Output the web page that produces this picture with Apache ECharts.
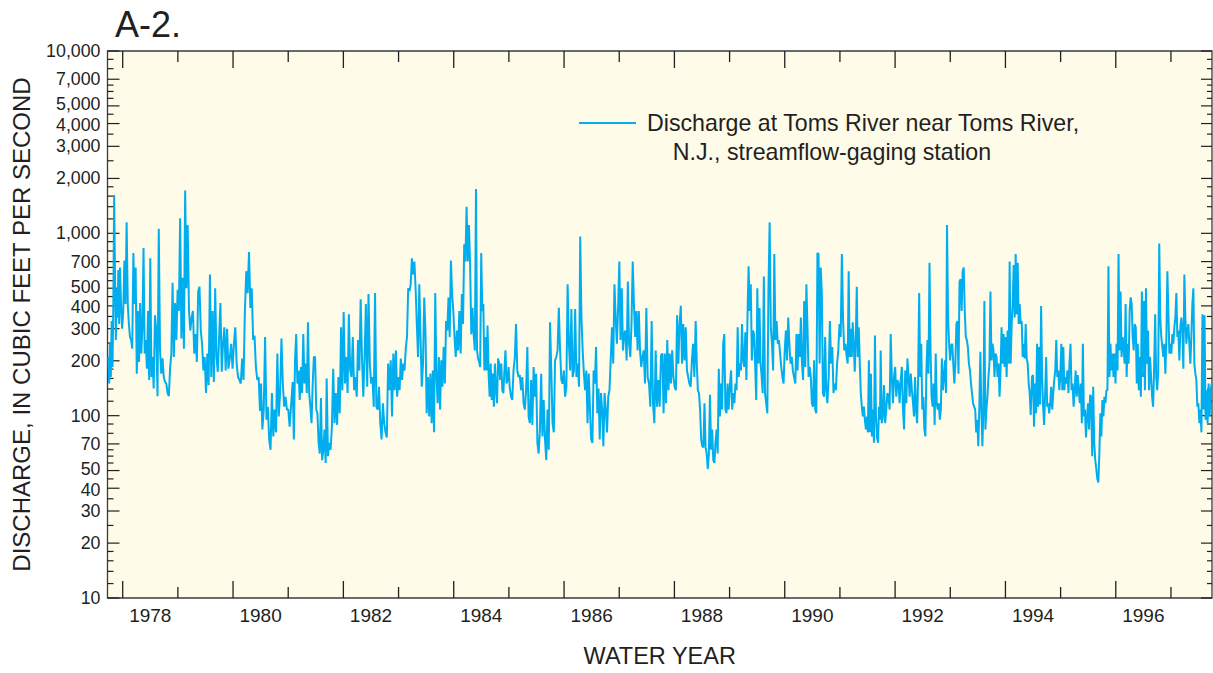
<!DOCTYPE html>
<html>
<head>
<meta charset="utf-8">
<title>A-2. Discharge at Toms River near Toms River, N.J.</title>
<script src="https://cdn.jsdelivr.net/npm/echarts/dist/echarts.min.js"></script>
<style>html,body{margin:0;padding:0;background:#fff}#chart{width:1213px;height:673px}</style>
</head>
<body>
<div id="chart"></div>
<script>
// ---------------- data ----------------
const SERIES_NAME = 'Discharge at Toms River near Toms River, N.J., streamflow-gaging station';
const X_MIN = 1977.4745;   // decimal calendar year at left edge of plot
const X_MAX = 1997.494;    // decimal calendar year at right edge of plot
const WATER_YEAR_TICKS = [1978,1979,1980,1981,1982,1983,1984,1985,1986,1987,1988,1989,1990,1991,1992,1993,1994,1995,1996,1997];
const WATER_YEAR_LABELS = [1978,1980,1982,1984,1986,1988,1990,1992,1994,1996];
const Y_LABEL_TICKS = [10,20,30,40,50,70,100,200,300,400,500,700,1000,2000,3000,4000,5000,7000,10000];
const Y_MINOR_TICKS = [12,14,16,18,25,35,45,55,60,65,80,90,120,140,160,180,250,350,450,550,600,650,800,900,1200,1400,1600,1800,2500,3500,4500,5500,6000,6500,8000,9000];

// each segment: [first date, last date] (decimal years); readings evenly spaced in between
const SEGMENT_DATES = [
 [1977.4896,1977.7011],[1977.7192,1978.3113],[1978.3355,1978.9276],[1978.9518,1979.5922],[1979.6164,1980.2387],[1980.2569,1980.8006],
 [1980.8308,1981.4290],[1981.4471,1982.0392],[1982.0634,1982.6555],[1982.6797,1983.2597],[1983.2839,1983.8518],[1983.8760,1984.1539],
 [1984.1720,1984.7641],[1984.7882,1985.3804],[1985.4045,1985.9966],[1986.0208,1986.5948],[1986.6190,1987.1930],[1987.2171,1987.5071],
 [1987.5313,1988.1113],[1988.1355,1988.7337],[1988.7578,1989.3318],[1989.3499,1989.9179],[1989.9421,1990.5221],[1990.5463,1990.8725],
 [1990.8905,1991.4766],[1991.4887,1992.0748],[1992.0929,1992.6729],[1992.6911,1993.2771],[1993.2953,1993.8813],[1993.8995,1994.2076],
 [1994.2318,1994.8178],[1994.8360,1995.4341],[1995.4522,1996.0383],[1996.0564,1996.6304],[1996.6486,1997.2286],[1997.2467,1997.4884]
];
// discharge, cubic feet per second
const q01 = [210,150,248,163,330,185,410,1620,570,260,500,345,630,318,650];
const q02 = [410,300,375,710,410,1150,410,318,270,260,233,780,410,650,170,375,197,415,219,305,830,219,260,181,375,157,730,163,210,141];
const q03 = [355,293,128,1060,228,170,206,163,153,150,133,128,181,219,535,210,415,260,490,375,1210,265,570,233,1720,500,1110];
const q04 = [375,293,345,375,219,280,197,480,510,293,248,177,210,133,219,147,595,163,375,153,500,210,174,270,415,174,248,305];
const q05 = [177,300,181,206,248,181,248,305,193,163,157,150,206,157,375,620,470,790,390,500,260,275,185,157,163,106];
const q06 = [150,84,108,270,95,112,74,65,133,77,108,81,219,99,133,265,150,112,127,108,108,87,112];
const q07 = [153,74,201,280,150,177,122,185,133,280,150,193,133,325,133,112,91,150,210,210,108,103,71,62,125,57,65,84,55];
const q08 = [160,60,71,65,87,181,91,133,89,163,103,305,138,370,150,210,133,360,177,163,270,138,163,127,260,177];
const q09 = [435,210,127,210,410,144,465,193,150,163,112,470,112,108,144,91,74,117,91,81,76,193,138,201,99,219];
const q10 = [138,228,127,163,138,206,157,193,177,233,270,500,480,525,730,595,700,500,318,210,525,270,144,193,445,293,103];
const q11 = [163,99,170,91,177,81,470,163,117,210,108,201,144,238,150,330,293,445,270,710,465,375,270,210,293,228,375];
const q12 = [219,465,318,870,700,1400,700,1110,670,280,390,280,228,1750];
const q13 = [228,206,197,185,780,375,410,177,270,177,312,170,127,193,122,170,112,193,138,117,206,193,157,193,138,133,177,228,150,157,185,144];
const q14 = [127,122,177,206,318,177,163,167,138,163,117,108,138,238,99,91,157,89,185,127,170,71,62,84,170,77,122];
const q15 = [74,57,108,65,325,177,91,81,201,210,228,390,228,157,150,177,127,144,525,248,177,385,163,177,385,163,193];
const q16 = [144,960,345,228,170,138,177,91,170,108,74,71,177,150,238,103,141,74,133,108,68,133,108,81,127,138,201];
const q17 = [305,193,525,345,248,390,700,260,500,228,280,293,201,545,248,210,318,700,410,270,375,228,375,228,185,210,228];
const q18 = [150,390,163,150,112,330,117,91,228,112,157,112,214];
const q19 = [219,103,219,117,260,138,219,150,228,163,144,138,355,193,318,400,193,318,201,305,177,163,150,144,201,248,163];
const q20 = [330,193,138,133,108,74,68,67,117,67,62,51,62,130,65,84,57,55,71,84,62,181,99,150,108,248,280,108,103,150,108];
const q21 = [150,177,108,133,117,150,138,305,163,193,177,318,201,185,287,157,345,660,375,525,201,293,280,193,122,500,193,390,193,163];
const q22 = [133,580,133,117,103,500,1150,305,248,177,770,260,330,248,260,219,185,163,150,228,293,201,345,248,193,210,177,163];
const q23 = [150,280,177,280,210,345,193,157,425,185,525,305,163,185,163,117,112,201,108,103,780,770,193,650,465,133,127,270,138,117];
const q24 = [163,330,193,238,133,150,138,193,228,318,270,770,330,228,248,210];
const q25 = [193,620,210,300,210,325,248,174,260,510,210,305,193,133,112,99,112,95,84,99,81,201,81,170,77,108,71,275,99,77,71,112,95];
const q26 = [228,91,99,147,91,108,133,127,108,280,163,117,163,185,127,157,150,117,157,185,108,84,177,117,206,163,127,170,138,117];
const q27 = [99,163,108,91,163,470,163,248,108,127,84,77,177,260,170,690,228,127,112,150,89,219,117,108,117,95,108,206,138,163,201,133];
const q28 = [1110,345,248,201,243,248,193,150,193,318,330,170,545,560,375,620,650,375,270,260,238,193,177,150,133,117,112,108,81,95,68,112];
const q29 = [224,108,68,108,425,84,108,127,163,193,480,201,248,228,163,219,210,163,193,127,177,305,193,280,185,270,163,293,193,700,193,318,410];
const q30 = [670,345,770,360,690,318,410,318,330,210,248,206,318,206,193,150,133,101];
const q31 = [163,167,87,150,103,248,112,238,115,400,163,112,89,133,210,112,117,103,117,144,108,133,157,177,260,163,177,138,163,248,138,238,138];
const q32 = [163,150,177,133,193,248,138,150,112,138,177,127,167,138,117,150,91,248,99,108,76,99,117,84,130,127,60,144,71,57,51,45,43];
const q33 = [62,103,77,122,99,127,117,138,138,660,163,248,177,219,163,219,150,248,177,770,228,480,210,270,238,193,410,163,248,193,375,445,410];
const q34 = [270,228,318,305,150,248,138,210,127,480,163,425,138,500,193,293,138,210,163,127,112,185,360,163,138,177,880,345,270,238,210,248];
const q35 = [170,260,620,375,219,248,219,280,248,305,345,470,270,293,201,305,345,293,181,595,345,248,293,318,248,193,270,410,500,193,170,157,112];
const q36 = [117,91,108,81,360,108,355,95,138,91,150,99,138,150];
const SEGMENTS = [q01,q02,q03,q04,q05,q06,q07,q08,q09,q10,q11,q12,q13,q14,q15,q16,q17,q18,
                  q19,q20,q21,q22,q23,q24,q25,q26,q27,q28,q29,q30,q31,q32,q33,q34,q35,q36];

// ---------------- build ----------------
const FONT = "'Liberation Sans', Arial, Helvetica, sans-serif";
const INK = '#231f20';
const LINE_COLOR = '#00aeef';

const discharge = [];
SEGMENTS.forEach((vals, i) => {
  const [t0, t1] = SEGMENT_DATES[i];
  const n = vals.length;
  vals.forEach((v, j) => discharge.push([t0 + (t1 - t0) * j / (n - 1), v]));
});

const Y_ALL = Y_LABEL_TICKS.concat(Y_MINOR_TICKS);
// small vertical nudge so that the tightly packed 4/5 labels do not collide
function labelNudge(v) {
  const lead = Number(String(v)[0]);
  return lead === 5 ? -1.6 : (lead === 4 ? 1.6 : 0);
}

const chart = echarts.init(document.getElementById('chart'), null, { renderer: 'svg' });
chart.setOption({
  animation: false,
  backgroundColor: '#ffffff',
  title: {
    text: 'A-2.', left: 110, top: 1, padding: 5,
    textStyle: { fontFamily: FONT, fontSize: 36, fontWeight: 'normal', color: INK }
  },
  legend: {
    left: 579, top: 79.5, padding: 0, selectedMode: false,
    icon: 'rect', itemWidth: 57, itemHeight: 2,
    data: [{ name: SERIES_NAME }],
    formatter: () => '\nDischarge at Toms River near Toms River,\n\u00a0\u00a0\u00a0\u00a0N.J., streamflow-gaging station',
    textStyle: { fontFamily: FONT, fontSize: 23.2, color: INK, lineHeight: 29, padding: [0, 0, 0, 6] }
  },
  grid: {
    left: 107.5, right: 1, top: 51, bottom: 69,
    show: true, backgroundColor: '#fefbe8', borderColor: '#3b3b3b', borderWidth: 1.3
  },
  xAxis: {
    type: 'value', min: X_MIN, max: X_MAX,
    name: 'WATER YEAR', nameLocation: 'middle', nameGap: 46,
    nameTextStyle: { fontFamily: FONT, fontSize: 23.5, color: INK },
    axisLine: { show: false }, axisTick: { show: false }, axisLabel: { show: false }, splitLine: { show: false }
  },
  yAxis: {
    type: 'log', logBase: 10, min: 10, max: 10000,
    name: 'DISCHARGE, IN CUBIC FEET PER SECOND', nameLocation: 'middle', nameGap: 74,
    nameTextStyle: { fontFamily: FONT, fontSize: 24, color: INK },
    axisLine: { show: false }, axisTick: { show: false }, axisLabel: { show: false }, splitLine: { show: false }
  },
  series: [
    {
      name: SERIES_NAME, type: 'line', data: discharge, showSymbol: false, symbol: 'none',
      lineStyle: { color: LINE_COLOR, width: 2 }, itemStyle: { color: LINE_COLOR },
      z: 4, silent: true
    },
    { // water-year boundary ticks, bottom and top, pointing inward
      type: 'custom', silent: true, z: 3,
      data: WATER_YEAR_TICKS.map(w => [w - 0.25, 10]),
      renderItem: (params, api) => {
        const wy = WATER_YEAR_TICKS[params.dataIndex];
        const b = api.coord([api.value(0), 10]);
        const t = api.coord([api.value(0), 10000]);
        const len = wy % 2 === 0 ? 17 : 11;
        const st = { stroke: INK, lineWidth: 1.3 };
        return { type: 'group', children: [
          { type: 'line', shape: { x1: b[0], y1: b[1], x2: b[0], y2: b[1] - len }, style: st },
          { type: 'line', shape: { x1: t[0], y1: t[1], x2: t[0], y2: t[1] + len }, style: st }
        ]};
      }
    },
    { // water-year labels, centred within each labelled year
      type: 'custom', silent: true, z: 3,
      data: WATER_YEAR_LABELS.map(w => [w + 0.25, 10]),
      renderItem: (params, api) => {
        const p = api.coord([api.value(0), 10]);
        return { type: 'text', x: p[0], y: p[1] + 17, style: {
          text: String(WATER_YEAR_LABELS[params.dataIndex]),
          align: 'center', verticalAlign: 'middle', textAlign: 'center', textVerticalAlign: 'middle',
          fontFamily: FONT, fontSize: 19, lineHeight: 15, fill: INK } };
      }
    },
    { // discharge ticks on left and right, with labels on the left
      type: 'custom', silent: true, z: 3,
      data: Y_ALL.map(v => [X_MIN, v]),
      renderItem: (params, api) => {
        const v = Y_ALL[params.dataIndex];
        const cs = params.coordSys;
        const y = api.coord([X_MIN, v])[1];
        const major = Y_LABEL_TICKS.indexOf(v) >= 0;
        const st = { stroke: INK, lineWidth: 1.2 };
        const children = [
          { type: 'line', shape: { x1: cs.x, y1: y, x2: cs.x + (major ? 12 : 6), y2: y }, style: st },
          { type: 'line', shape: { x1: cs.x + cs.width, y1: y, x2: cs.x + cs.width - (major ? 11 : 5), y2: y }, style: st }
        ];
        if (major) {
          children.push({ type: 'text', x: cs.x - 7, y: y + labelNudge(v), style: {
            text: v.toLocaleString('en-US'),
            align: 'right', verticalAlign: 'middle', textAlign: 'right', textVerticalAlign: 'middle',
            fontFamily: FONT, fontSize: 17.8, lineHeight: 14, fill: INK } });
        }
        return { type: 'group', children };
      }
    }
  ]
});
</script>
</body>
</html>
